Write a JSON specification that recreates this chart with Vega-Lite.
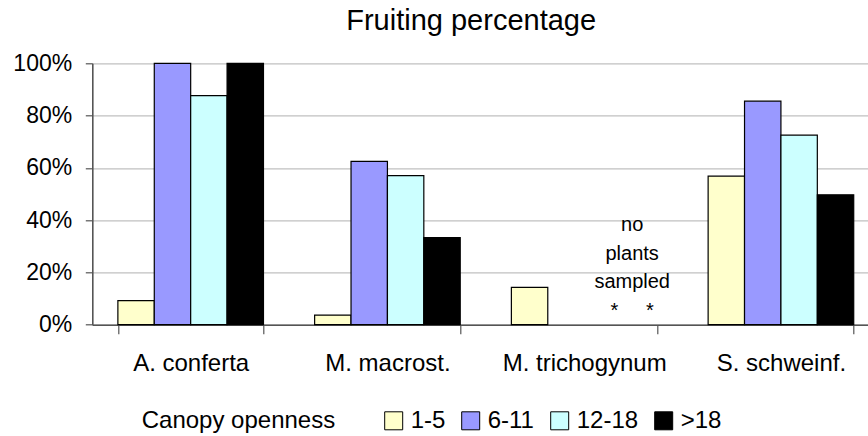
{
  "$schema": "https://vega.github.io/schema/vega-lite/v6.json",
  "width": 775.7,
  "height": 261.4,
  "autosize": {"type": "none"},
  "padding": {"left": 92.3, "top": 63.3, "right": 0, "bottom": 111.3},
  "background": "white",
  "config": {
    "font": "Liberation Sans",
    "view": {"stroke": null},
    "axis": {"labelColor": "black", "labelFont": "Liberation Sans"}
  },
  "title": {
    "text": "Fruiting percentage",
    "font": "Liberation Sans",
    "fontSize": 29,
    "fontWeight": "normal",
    "color": "black",
    "anchor": "middle",
    "frame": "group",
    "baseline": "alphabetic",
    "offset": -6.7,
    "dx": -9
  },
  "data": {
    "values": [
      {"species": "A. conferta", "canopy": "1-5", "pct": 0.092},
      {"species": "A. conferta", "canopy": "6-11", "pct": 1.0},
      {"species": "A. conferta", "canopy": "12-18", "pct": 0.876},
      {"species": "A. conferta", "canopy": ">18", "pct": 1.0},
      {"species": "M. macrost.", "canopy": "1-5", "pct": 0.037},
      {"species": "M. macrost.", "canopy": "6-11", "pct": 0.625},
      {"species": "M. macrost.", "canopy": "12-18", "pct": 0.57},
      {"species": "M. macrost.", "canopy": ">18", "pct": 0.333},
      {"species": "M. trichogynum", "canopy": "1-5", "pct": 0.143},
      {"species": "S. schweinf.", "canopy": "1-5", "pct": 0.568},
      {"species": "S. schweinf.", "canopy": "6-11", "pct": 0.855},
      {"species": "S. schweinf.", "canopy": "12-18", "pct": 0.725},
      {"species": "S. schweinf.", "canopy": ">18", "pct": 0.497}
    ]
  },
  "layer": [
    {
      "mark": {"type": "bar", "stroke": "black", "strokeWidth": 1.2},
      "encoding": {
        "x": {
          "field": "species",
          "type": "nominal",
          "sort": null,
          "scale": {"paddingInner": 0.26, "paddingOuter": 0.13, "range": [0, 787]},
          "axis": {
            "title": null,
            "labelAngle": 0,
            "labelFontSize": 24,
            "labelBaseline": "alphabetic",
            "labelPadding": 37.3,
            "tickBand": "extent",
            "tickSize": 9,
            "tickColor": "#555555",
            "tickWidth": 1.2,
            "domainColor": "#555555",
            "domainWidth": 1.6,
            "grid": false
          }
        },
        "xOffset": {
          "field": "canopy",
          "type": "nominal",
          "scale": {"domain": ["1-5", "6-11", "12-18", ">18"], "paddingInner": 0, "paddingOuter": 0}
        },
        "y": {
          "field": "pct",
          "type": "quantitative",
          "scale": {"domain": [0, 1], "nice": false},
          "axis": {
            "title": null,
            "values": [0, 0.2, 0.4, 0.6, 0.8, 1.0],
            "format": ".0%",
            "labelFontSize": 23,
            "labelPadding": 13.6,
            "tickSize": 7,
            "tickColor": "#555555",
            "tickWidth": 1.2,
            "domainColor": "#555555",
            "domainWidth": 1.6,
            "gridColor": "#c0c0c0",
            "gridWidth": 1.2
          }
        },
        "color": {
          "field": "canopy",
          "type": "nominal",
          "scale": {
            "domain": ["1-5", "6-11", "12-18", ">18"],
            "range": ["#FFFFCC", "#9999FF", "#CCFFFF", "#000000"]
          },
          "legend": {
            "title": "Canopy openness",
            "orient": "none",
            "direction": "horizontal",
            "legendX": 49.4,
            "legendY": 345.5,
            "titleOrient": "left",
            "titleFontSize": 24,
            "titleFontWeight": "normal",
            "titleColor": "black",
            "titleFont": "Liberation Sans",
            "titleBaseline": "middle",
            "titleLimit": 0,
            "titlePadding": 46,
            "labelFontSize": 24,
            "labelColor": "black",
            "labelFont": "Liberation Sans",
            "labelLimit": 0,
            "labelOffset": 5,
            "columnPadding": 13,
            "symbolType": "square",
            "symbolSize": 324,
            "symbolStrokeColor": "black",
            "symbolStrokeWidth": 1,
            "symbolOpacity": 1,
            "padding": 0
          }
        }
      }
    },
    {
      "data": {"values": [{"note": "no\nplants\nsampled\n*\u00a0\u00a0\u00a0\u00a0\u00a0*"}]},
      "mark": {
        "type": "text",
        "fontSize": 20,
        "font": "Liberation Sans",
        "color": "black",
        "align": "center",
        "baseline": "alphabetic",
        "lineBreak": "\n",
        "lineHeight": 28.7,
        "dx": 48
      },
      "encoding": {
        "x": {"datum": "M. trichogynum"},
        "y": {"datum": 0.3585},
        "text": {"field": "note"}
      }
    }
  ]
}
